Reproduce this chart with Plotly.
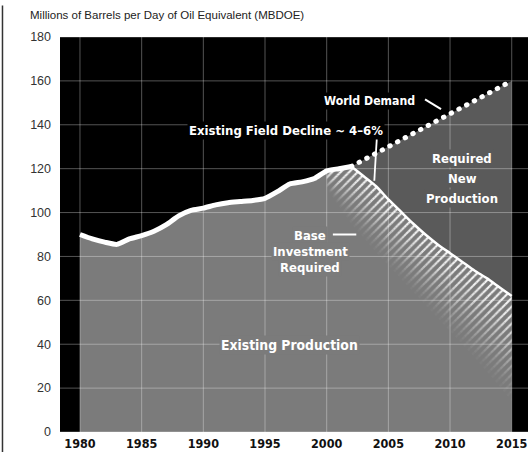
import plotly.graph_objects as go

# Historical oil-equivalent production, MBDOE
hist_years = list(range(1980, 2003))
hist_prod = [90, 88, 86.5, 85.5, 88, 89.5, 91.5, 94.5, 98.5, 101, 102, 103.5, 104.5,
             105, 105.5, 106.5, 109.5, 113, 114, 115.5, 119, 120, 121]

# Existing fields declining after 2002
fc_years = list(range(2002, 2016))
decline = [121, 116.5, 112, 106, 100.5, 95, 90, 85.5, 81.5, 77.5, 73.5, 70, 66, 62]

# World demand outlook
demand = [121, 124, 127, 130, 133, 136, 139, 142, 145, 148, 151, 154, 157, 160]

# Extent of the "base investment" hatch: top edge and where it has faded out
hatch_years = list(range(2000, 2016))
hatch_top = [119, 120] + decline
hatch_floor = [111, 103, 95, 88.5, 82, 76, 70, 64, 58, 52, 46, 40, 34, 27.5, 21, 14]
hatch_opacity = [0.95, 0.93, 0.9, 0.85, 0.79, 0.72, 0.64, 0.56, 0.48, 0.4,
                 0.32, 0.25, 0.18, 0.12, 0.07, 0.03]

x_ticks = [1980, 1985, 1990, 1995, 2000, 2005, 2010, 2015]
y_ticks = [0, 20, 40, 60, 80, 100, 120, 140, 160, 180]

GREY = "#7b7b7b"
DARK = "#5a5a5a"
NARROW = "DejaVu Sans Condensed, Liberation Sans Narrow, Arial Narrow, sans-serif"
SANS = "Liberation Sans, Arial, Helvetica, sans-serif"

fig = go.Figure()

# Existing production area (history + decline)
fig.add_trace(go.Scatter(
    x=hist_years + fc_years[1:], y=hist_prod + decline[1:],
    mode="lines", line=dict(width=0, shape="spline", smoothing=0.6),
    fill="tozeroy", fillcolor=GREY, hoverinfo="skip"))

# Required new production: gap between decline and demand
fig.add_trace(go.Scatter(x=fc_years, y=decline, mode="lines",
                         line=dict(width=0, shape="spline", smoothing=0.6),
                         hoverinfo="skip"))
fig.add_trace(go.Scatter(x=fc_years, y=demand, mode="lines", line=dict(width=0),
                         fill="tonexty", fillcolor=DARK, hoverinfo="skip"))

# Fading diagonal hatch below the decline curve
n = len(hatch_opacity)
for k, op in enumerate(hatch_opacity):
    upper = [t - (k / n) * (t - f) for t, f in zip(hatch_top, hatch_floor)]
    lower = [t - ((k + 1) / n) * (t - f) for t, f in zip(hatch_top, hatch_floor)]
    fig.add_trace(go.Scatter(x=hatch_years, y=lower, mode="lines",
                             line=dict(width=0, shape="spline", smoothing=0.6),
                             hoverinfo="skip"))
    fig.add_trace(go.Scatter(
        x=hatch_years, y=upper, mode="lines",
        line=dict(width=0, shape="spline", smoothing=0.6),
        fill="tonexty", fillcolor="rgba(0,0,0,0)",
        fillpattern=dict(shape="/", fgcolor="white", bgcolor="rgba(0,0,0,0)",
                         fgopacity=op, size=6, solidity=0.36),
        hoverinfo="skip"))

# White production outline
fig.add_trace(go.Scatter(x=hist_years, y=hist_prod, mode="lines",
                         line=dict(color="white", width=5, shape="spline", smoothing=0.6),
                         hoverinfo="skip"))
fig.add_trace(go.Scatter(x=fc_years, y=decline, mode="lines",
                         line=dict(color="white", width=2.5, shape="spline", smoothing=0.6),
                         hoverinfo="skip"))

# Dotted world demand line
fig.add_trace(go.Scatter(x=fc_years, y=demand, mode="lines",
                         line=dict(color="white", width=5, dash="0.5px,8.2px"),
                         hoverinfo="skip"))

# Grid drawn over the filled areas
shapes = []
for xv in x_ticks:
    shapes.append(dict(type="line", xref="x", yref="paper", x0=xv, x1=xv, y0=0, y1=1,
                       line=dict(color="rgba(255,255,255,0.33)", width=1), layer="above"))
for yv in y_ticks:
    shapes.append(dict(type="line", xref="paper", yref="y", x0=0, x1=1, y0=yv, y1=yv,
                       line=dict(color="rgba(255,255,255,0.33)", width=1), layer="above"))

# Leader lines for the callouts
shapes += [
    dict(type="line", xref="x", yref="y", x0=2007.97, y0=151.6, x1=2009.27, y1=147.1,
         line=dict(color="white", width=2), layer="above"),
    dict(type="line", xref="x", yref="y", x0=2004.07, y0=134.6, x1=2003.86, y1=114.5,
         line=dict(color="white", width=1.8), layer="above"),
    dict(type="line", xref="x", yref="y", x0=2000.5, y0=90, x1=2002.4, y1=90,
         line=dict(color="white", width=2), layer="above"),
    # frame line at the left edge of the figure
    dict(type="line", xref="paper", yref="paper", x0=-0.1229, x1=-0.1229, y0=-0.06, y1=1.08,
         line=dict(color="#333333", width=1.5), layer="above"),
]


def label(lines, x, y, size, bg, step):
    """One annotation per text line so each line gets its own backing box."""
    out = []
    mid = (len(lines) - 1) / 2
    for i, txt in enumerate(lines):
        out.append(dict(text=txt, x=x, y=y, xref="x", yref="y", showarrow=False,
                        yshift=(mid - i) * step,
                        font=dict(family=NARROW, size=size, color="white", weight="bold"),
                        bgcolor=bg, borderpad=1))
    return out


annotations = []
annotations += label(["World Demand"], 2003.5, 150.7, 12.2, "black", 0)
annotations += label(["Existing Field Decline ~ 4\u20136%"], 1996.7, 137.5, 13, "black", 0)
annotations += label(["Required", "New", "Production"], 2011.0, 115.6, 13, DARK, 20)
annotations += label(["Base", "Investment", "Required"], 1998.65, 82.4, 13, GREY, 16)
annotations += label(["Existing Production"], 1997.0, 39.5, 13.8, GREY, 0)
annotations.append(dict(
    text="Millions of Barrels per Day of Oil Equivalent (MBDOE)",
    xref="paper", yref="paper", x=-0.0684, y=1.0557, xanchor="left", yanchor="middle",
    showarrow=False, font=dict(family=SANS, size=11.5, color="#222222")))

fig.update_layout(
    width=528, height=452,
    margin=dict(l=60, r=0, t=37, b=20),
    paper_bgcolor="white", plot_bgcolor="black",
    showlegend=False, hovermode=False,
    shapes=shapes, annotations=annotations,
    xaxis=dict(range=[1978.38, 2016.32], tickvals=x_ticks, showgrid=False, zeroline=False,
               showline=False, ticks="", ticklabelstandoff=2, ticklabeloverflow="allow",
               tickfont=dict(family=NARROW, size=12.5, color="#111111", weight="bold")),
    yaxis=dict(range=[0, 180], tickvals=y_ticks, showgrid=False, zeroline=False,
               showline=False, ticks="", ticklabelstandoff=8,
               tickfont=dict(family=SANS, size=12.5, color="#333333")),
)

round_caps = """
var gd = document.getElementById('{plot_id}');
function roundCaps() {
  gd.querySelectorAll('path.js-line').forEach(function (p) {
    if ((p.style.strokeDasharray || '').indexOf('0.5px') >= 0) {
      p.style.strokeLinecap = 'round';
    }
  });
}
roundCaps();
gd.on('plotly_afterplot', roundCaps);
"""

fig.write_html("out.html", post_script=round_caps)
